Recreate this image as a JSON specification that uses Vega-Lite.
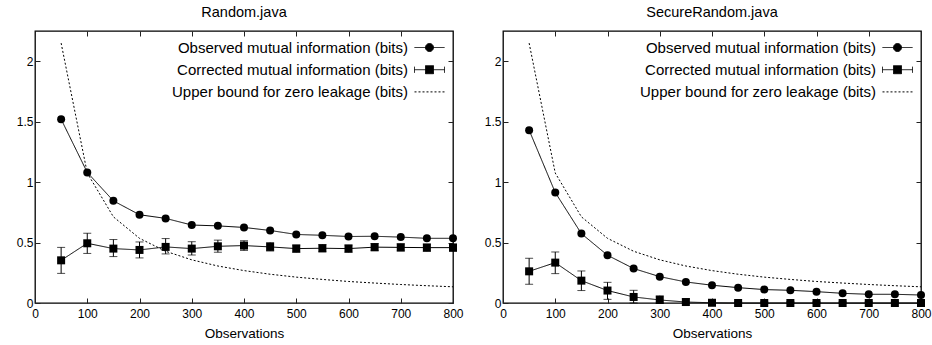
{
  "$schema": "https://vega.github.io/schema/vega-lite/v6.json",
  "padding": {"left": 15, "top": 4, "right": 0, "bottom": 2},
  "background": "white",
  "config": {
    "font": "Liberation Sans",
    "view": {"stroke": "black", "strokeWidth": 1.3},
    "axis": {
      "domain": false,
      "grid": false,
      "labelFont": "Liberation Sans",
      "labelFontSize": 12,
      "labelColor": "black",
      "labelFlush": false,
      "labelPadding": 7,
      "tickColor": "#222",
      "tickSize": -5,
      "tickWidth": 1,
      "titleFont": "Liberation Sans",
      "titleFontSize": 13.5,
      "titleFontWeight": "normal",
      "titleColor": "black"
    },
    "title": {"font": "Liberation Sans", "fontSize": 14.5, "fontWeight": "normal", "color": "black", "offset": 10},
    "legend": {
      "orient": "top-right",
      "offset": 6,
      "title": null,
      "labelFont": "Liberation Sans",
      "labelFontSize": 15,
      "labelColor": "black",
      "labelAlign": "right",
      "labelOffset": -32,
      "labelLimit": 0,
      "symbolSize": 400,
      "symbolStrokeWidth": 1,
      "symbolStrokeColor": "black",
      "rowPadding": 3.2,
      "padding": 0
    }
  },
  "datasets": {
    "mi": [
      {"panel": "Random.java", "series": "Observed mutual information (bits)", "x": 50, "y": 1.52},
      {"panel": "Random.java", "series": "Observed mutual information (bits)", "x": 100, "y": 1.08},
      {"panel": "Random.java", "series": "Observed mutual information (bits)", "x": 150, "y": 0.845},
      {"panel": "Random.java", "series": "Observed mutual information (bits)", "x": 200, "y": 0.73},
      {"panel": "Random.java", "series": "Observed mutual information (bits)", "x": 250, "y": 0.70},
      {"panel": "Random.java", "series": "Observed mutual information (bits)", "x": 300, "y": 0.645},
      {"panel": "Random.java", "series": "Observed mutual information (bits)", "x": 350, "y": 0.638},
      {"panel": "Random.java", "series": "Observed mutual information (bits)", "x": 400, "y": 0.625},
      {"panel": "Random.java", "series": "Observed mutual information (bits)", "x": 450, "y": 0.60},
      {"panel": "Random.java", "series": "Observed mutual information (bits)", "x": 500, "y": 0.567},
      {"panel": "Random.java", "series": "Observed mutual information (bits)", "x": 550, "y": 0.56},
      {"panel": "Random.java", "series": "Observed mutual information (bits)", "x": 600, "y": 0.55},
      {"panel": "Random.java", "series": "Observed mutual information (bits)", "x": 650, "y": 0.552},
      {"panel": "Random.java", "series": "Observed mutual information (bits)", "x": 700, "y": 0.545},
      {"panel": "Random.java", "series": "Observed mutual information (bits)", "x": 750, "y": 0.535},
      {"panel": "Random.java", "series": "Observed mutual information (bits)", "x": 800, "y": 0.535},
      {"panel": "Random.java", "series": "Corrected mutual information (bits)", "x": 50, "y": 0.353, "lo": 0.245, "hi": 0.46},
      {"panel": "Random.java", "series": "Corrected mutual information (bits)", "x": 100, "y": 0.494, "lo": 0.41, "hi": 0.577},
      {"panel": "Random.java", "series": "Corrected mutual information (bits)", "x": 150, "y": 0.45, "lo": 0.384, "hi": 0.525},
      {"panel": "Random.java", "series": "Corrected mutual information (bits)", "x": 200, "y": 0.439, "lo": 0.373, "hi": 0.505},
      {"panel": "Random.java", "series": "Corrected mutual information (bits)", "x": 250, "y": 0.464, "lo": 0.406, "hi": 0.533},
      {"panel": "Random.java", "series": "Corrected mutual information (bits)", "x": 300, "y": 0.45, "lo": 0.397, "hi": 0.507},
      {"panel": "Random.java", "series": "Corrected mutual information (bits)", "x": 350, "y": 0.469, "lo": 0.42, "hi": 0.52},
      {"panel": "Random.java", "series": "Corrected mutual information (bits)", "x": 400, "y": 0.475, "lo": 0.435, "hi": 0.515},
      {"panel": "Random.java", "series": "Corrected mutual information (bits)", "x": 450, "y": 0.464, "lo": 0.43, "hi": 0.50},
      {"panel": "Random.java", "series": "Corrected mutual information (bits)", "x": 500, "y": 0.45, "lo": 0.42, "hi": 0.48},
      {"panel": "Random.java", "series": "Corrected mutual information (bits)", "x": 550, "y": 0.453, "lo": 0.423, "hi": 0.483},
      {"panel": "Random.java", "series": "Corrected mutual information (bits)", "x": 600, "y": 0.45, "lo": 0.42, "hi": 0.48},
      {"panel": "Random.java", "series": "Corrected mutual information (bits)", "x": 650, "y": 0.462, "lo": 0.432, "hi": 0.492},
      {"panel": "Random.java", "series": "Corrected mutual information (bits)", "x": 700, "y": 0.46, "lo": 0.43, "hi": 0.49},
      {"panel": "Random.java", "series": "Corrected mutual information (bits)", "x": 750, "y": 0.458, "lo": 0.428, "hi": 0.488},
      {"panel": "Random.java", "series": "Corrected mutual information (bits)", "x": 800, "y": 0.458, "lo": 0.428, "hi": 0.488},
      {"panel": "Random.java", "series": "Upper bound for zero leakage (bits)", "x": 50, "y": 2.15},
      {"panel": "Random.java", "series": "Upper bound for zero leakage (bits)", "x": 100, "y": 1.075},
      {"panel": "Random.java", "series": "Upper bound for zero leakage (bits)", "x": 150, "y": 0.713},
      {"panel": "Random.java", "series": "Upper bound for zero leakage (bits)", "x": 200, "y": 0.535},
      {"panel": "Random.java", "series": "Upper bound for zero leakage (bits)", "x": 250, "y": 0.428},
      {"panel": "Random.java", "series": "Upper bound for zero leakage (bits)", "x": 300, "y": 0.357},
      {"panel": "Random.java", "series": "Upper bound for zero leakage (bits)", "x": 350, "y": 0.306},
      {"panel": "Random.java", "series": "Upper bound for zero leakage (bits)", "x": 400, "y": 0.268},
      {"panel": "Random.java", "series": "Upper bound for zero leakage (bits)", "x": 450, "y": 0.238},
      {"panel": "Random.java", "series": "Upper bound for zero leakage (bits)", "x": 500, "y": 0.214},
      {"panel": "Random.java", "series": "Upper bound for zero leakage (bits)", "x": 550, "y": 0.195},
      {"panel": "Random.java", "series": "Upper bound for zero leakage (bits)", "x": 600, "y": 0.178},
      {"panel": "Random.java", "series": "Upper bound for zero leakage (bits)", "x": 650, "y": 0.165},
      {"panel": "Random.java", "series": "Upper bound for zero leakage (bits)", "x": 700, "y": 0.153},
      {"panel": "Random.java", "series": "Upper bound for zero leakage (bits)", "x": 750, "y": 0.143},
      {"panel": "Random.java", "series": "Upper bound for zero leakage (bits)", "x": 800, "y": 0.134},
      {"panel": "SecureRandom.java", "series": "Observed mutual information (bits)", "x": 50, "y": 1.43},
      {"panel": "SecureRandom.java", "series": "Observed mutual information (bits)", "x": 100, "y": 0.914},
      {"panel": "SecureRandom.java", "series": "Observed mutual information (bits)", "x": 150, "y": 0.574},
      {"panel": "SecureRandom.java", "series": "Observed mutual information (bits)", "x": 200, "y": 0.395},
      {"panel": "SecureRandom.java", "series": "Observed mutual information (bits)", "x": 250, "y": 0.285},
      {"panel": "SecureRandom.java", "series": "Observed mutual information (bits)", "x": 300, "y": 0.218},
      {"panel": "SecureRandom.java", "series": "Observed mutual information (bits)", "x": 350, "y": 0.174},
      {"panel": "SecureRandom.java", "series": "Observed mutual information (bits)", "x": 400, "y": 0.147},
      {"panel": "SecureRandom.java", "series": "Observed mutual information (bits)", "x": 450, "y": 0.127},
      {"panel": "SecureRandom.java", "series": "Observed mutual information (bits)", "x": 500, "y": 0.111},
      {"panel": "SecureRandom.java", "series": "Observed mutual information (bits)", "x": 550, "y": 0.105},
      {"panel": "SecureRandom.java", "series": "Observed mutual information (bits)", "x": 600, "y": 0.094},
      {"panel": "SecureRandom.java", "series": "Observed mutual information (bits)", "x": 650, "y": 0.08},
      {"panel": "SecureRandom.java", "series": "Observed mutual information (bits)", "x": 700, "y": 0.072},
      {"panel": "SecureRandom.java", "series": "Observed mutual information (bits)", "x": 750, "y": 0.072},
      {"panel": "SecureRandom.java", "series": "Observed mutual information (bits)", "x": 800, "y": 0.066},
      {"panel": "SecureRandom.java", "series": "Corrected mutual information (bits)", "x": 50, "y": 0.262, "lo": 0.155, "hi": 0.37},
      {"panel": "SecureRandom.java", "series": "Corrected mutual information (bits)", "x": 100, "y": 0.334, "lo": 0.243, "hi": 0.422},
      {"panel": "SecureRandom.java", "series": "Corrected mutual information (bits)", "x": 150, "y": 0.185, "lo": 0.103, "hi": 0.265},
      {"panel": "SecureRandom.java", "series": "Corrected mutual information (bits)", "x": 200, "y": 0.103, "lo": 0.03, "hi": 0.171},
      {"panel": "SecureRandom.java", "series": "Corrected mutual information (bits)", "x": 250, "y": 0.05, "lo": 0.0, "hi": 0.105},
      {"panel": "SecureRandom.java", "series": "Corrected mutual information (bits)", "x": 300, "y": 0.025, "lo": 0.0, "hi": 0.06},
      {"panel": "SecureRandom.java", "series": "Corrected mutual information (bits)", "x": 350, "y": 0.008, "lo": 0.0, "hi": 0.035},
      {"panel": "SecureRandom.java", "series": "Corrected mutual information (bits)", "x": 400, "y": 0.002, "lo": 0.0, "hi": 0.012},
      {"panel": "SecureRandom.java", "series": "Corrected mutual information (bits)", "x": 450, "y": 0.0, "lo": 0.0, "hi": 0.01},
      {"panel": "SecureRandom.java", "series": "Corrected mutual information (bits)", "x": 500, "y": 0.0, "lo": 0.0, "hi": 0.01},
      {"panel": "SecureRandom.java", "series": "Corrected mutual information (bits)", "x": 550, "y": 0.0, "lo": 0.0, "hi": 0.01},
      {"panel": "SecureRandom.java", "series": "Corrected mutual information (bits)", "x": 600, "y": 0.0, "lo": 0.0, "hi": 0.01},
      {"panel": "SecureRandom.java", "series": "Corrected mutual information (bits)", "x": 650, "y": 0.0, "lo": 0.0, "hi": 0.01},
      {"panel": "SecureRandom.java", "series": "Corrected mutual information (bits)", "x": 700, "y": 0.0, "lo": 0.0, "hi": 0.01},
      {"panel": "SecureRandom.java", "series": "Corrected mutual information (bits)", "x": 750, "y": 0.0, "lo": 0.0, "hi": 0.01},
      {"panel": "SecureRandom.java", "series": "Corrected mutual information (bits)", "x": 800, "y": 0.0, "lo": 0.0, "hi": 0.01},
      {"panel": "SecureRandom.java", "series": "Upper bound for zero leakage (bits)", "x": 50, "y": 2.15},
      {"panel": "SecureRandom.java", "series": "Upper bound for zero leakage (bits)", "x": 100, "y": 1.075},
      {"panel": "SecureRandom.java", "series": "Upper bound for zero leakage (bits)", "x": 150, "y": 0.713},
      {"panel": "SecureRandom.java", "series": "Upper bound for zero leakage (bits)", "x": 200, "y": 0.535},
      {"panel": "SecureRandom.java", "series": "Upper bound for zero leakage (bits)", "x": 250, "y": 0.428},
      {"panel": "SecureRandom.java", "series": "Upper bound for zero leakage (bits)", "x": 300, "y": 0.357},
      {"panel": "SecureRandom.java", "series": "Upper bound for zero leakage (bits)", "x": 350, "y": 0.306},
      {"panel": "SecureRandom.java", "series": "Upper bound for zero leakage (bits)", "x": 400, "y": 0.268},
      {"panel": "SecureRandom.java", "series": "Upper bound for zero leakage (bits)", "x": 450, "y": 0.238},
      {"panel": "SecureRandom.java", "series": "Upper bound for zero leakage (bits)", "x": 500, "y": 0.214},
      {"panel": "SecureRandom.java", "series": "Upper bound for zero leakage (bits)", "x": 550, "y": 0.195},
      {"panel": "SecureRandom.java", "series": "Upper bound for zero leakage (bits)", "x": 600, "y": 0.178},
      {"panel": "SecureRandom.java", "series": "Upper bound for zero leakage (bits)", "x": 650, "y": 0.165},
      {"panel": "SecureRandom.java", "series": "Upper bound for zero leakage (bits)", "x": 700, "y": 0.153},
      {"panel": "SecureRandom.java", "series": "Upper bound for zero leakage (bits)", "x": 750, "y": 0.143},
      {"panel": "SecureRandom.java", "series": "Upper bound for zero leakage (bits)", "x": 800, "y": 0.134}
    ]
  },
  "data": {"name": "mi"},
  "spacing": 19,
  "resolve": {
    "scale": {"strokeDash": "independent", "shape": "independent"},
    "legend": {"strokeDash": "independent", "shape": "independent"}
  },
  "hconcat": [
    {
      "title": "Random.java",
      "width": 418,
      "height": 272,
      "transform": [{"filter": "datum.panel === 'Random.java'"}],
      "resolve": {"axis": {"x": "independent", "y": "independent"}},
      "layer": [
        {
          "mark": {"type": "line", "color": "black", "strokeWidth": 1},
          "encoding": {
            "x": {"field": "x", "type": "quantitative", "scale": {"domain": [0, 800], "nice": false}, "axis": {"orient": "bottom", "values": [0, 100, 200, 300, 400, 500, 600, 700, 800], "labelPadding": 10, "title": "Observations", "titlePadding": 7}},
            "y": {"field": "y", "type": "quantitative", "scale": {"domain": [0, 2.25], "nice": false}, "axis": {"orient": "left", "values": [0, 0.5, 1, 1.5, 2], "format": "~g", "title": null}},
            "detail": {"field": "series"},
            "strokeDash": {
              "field": "series", "type": "nominal",
              "scale": {"domain": ["Observed mutual information (bits)", "Corrected mutual information (bits)", "Upper bound for zero leakage (bits)"], "range": [[1, 0], [1, 0], [2, 2]]},
              "legend": {
                "encode": {"symbols": {"update": {
                  "shape": {"signal": "datum.value === 'Observed mutual information (bits)' ? 'M-1.5,0L1.5,0M-0.4,0A0.4,0.4,0,1,1,0.4,0A0.4,0.4,0,1,1,-0.4,0Z' : datum.value === 'Corrected mutual information (bits)' ? 'M-1.5,-0.3L-1.5,0.3M-1.5,0L1.5,0M1.5,-0.3L1.5,0.3M-0.4,-0.4L0.4,-0.4L0.4,0.4L-0.4,0.4Z' : 'M-1.5,0L1.5,0'"},
                  "fill": {"signal": "datum.value === 'Upper bound for zero leakage (bits)' ? 'transparent' : 'black'"},
                  "stroke": {"value": "black"},
                  "strokeWidth": {"value": 1}
                }}}
              }
            }
          }
        },
        {
          "transform": [{"filter": "datum.series === 'Corrected mutual information (bits)'"}],
          "mark": {"type": "errorbar", "ticks": {"size": 8, "color": "black"}, "rule": {"color": "black", "strokeWidth": 1}},
          "encoding": {
            "x": {"field": "x", "type": "quantitative", "axis": null},
            "y": {"field": "lo", "type": "quantitative", "axis": null},
            "y2": {"field": "hi"}
          }
        },
        {
          "transform": [{"filter": "datum.series !== 'Upper bound for zero leakage (bits)'"}],
          "mark": {"type": "point", "filled": true, "color": "black", "size": 64, "opacity": 1},
          "encoding": {
            "x": {"field": "x", "type": "quantitative", "axis": {"orient": "top", "values": [0, 100, 200, 300, 400, 500, 600, 700, 800], "labels": false, "title": null}},
            "y": {"field": "y", "type": "quantitative", "axis": {"orient": "right", "values": [0, 0.5, 1, 1.5, 2], "labels": false, "title": null}},
            "shape": {"field": "series", "type": "nominal", "scale": {"domain": ["Observed mutual information (bits)", "Corrected mutual information (bits)"], "range": ["circle", "square"]}, "legend": null}
          }
        }
      ]
    },
    {
      "title": "SecureRandom.java",
      "width": 418,
      "height": 272,
      "transform": [{"filter": "datum.panel === 'SecureRandom.java'"}],
      "resolve": {"axis": {"x": "independent", "y": "independent"}},
      "layer": [
        {
          "mark": {"type": "line", "color": "black", "strokeWidth": 1},
          "encoding": {
            "x": {"field": "x", "type": "quantitative", "scale": {"domain": [0, 800], "nice": false}, "axis": {"orient": "bottom", "values": [0, 100, 200, 300, 400, 500, 600, 700, 800], "labelPadding": 10, "title": "Observations", "titlePadding": 7}},
            "y": {"field": "y", "type": "quantitative", "scale": {"domain": [0, 2.25], "nice": false}, "axis": {"orient": "left", "values": [0, 0.5, 1, 1.5, 2], "format": "~g", "title": null}},
            "detail": {"field": "series"},
            "strokeDash": {
              "field": "series", "type": "nominal",
              "scale": {"domain": ["Observed mutual information (bits)", "Corrected mutual information (bits)", "Upper bound for zero leakage (bits)"], "range": [[1, 0], [1, 0], [2, 2]]},
              "legend": {
                "encode": {"symbols": {"update": {
                  "shape": {"signal": "datum.value === 'Observed mutual information (bits)' ? 'M-1.5,0L1.5,0M-0.4,0A0.4,0.4,0,1,1,0.4,0A0.4,0.4,0,1,1,-0.4,0Z' : datum.value === 'Corrected mutual information (bits)' ? 'M-1.5,-0.3L-1.5,0.3M-1.5,0L1.5,0M1.5,-0.3L1.5,0.3M-0.4,-0.4L0.4,-0.4L0.4,0.4L-0.4,0.4Z' : 'M-1.5,0L1.5,0'"},
                  "fill": {"signal": "datum.value === 'Upper bound for zero leakage (bits)' ? 'transparent' : 'black'"},
                  "stroke": {"value": "black"},
                  "strokeWidth": {"value": 1}
                }}}
              }
            }
          }
        },
        {
          "transform": [{"filter": "datum.series === 'Corrected mutual information (bits)'"}],
          "mark": {"type": "errorbar", "ticks": {"size": 8, "color": "black"}, "rule": {"color": "black", "strokeWidth": 1}},
          "encoding": {
            "x": {"field": "x", "type": "quantitative", "axis": null},
            "y": {"field": "lo", "type": "quantitative", "axis": null},
            "y2": {"field": "hi"}
          }
        },
        {
          "transform": [{"filter": "datum.series !== 'Upper bound for zero leakage (bits)'"}],
          "mark": {"type": "point", "filled": true, "color": "black", "size": 64, "opacity": 1},
          "encoding": {
            "x": {"field": "x", "type": "quantitative", "axis": {"orient": "top", "values": [0, 100, 200, 300, 400, 500, 600, 700, 800], "labels": false, "title": null}},
            "y": {"field": "y", "type": "quantitative", "axis": {"orient": "right", "values": [0, 0.5, 1, 1.5, 2], "labels": false, "title": null}},
            "shape": {"field": "series", "type": "nominal", "scale": {"domain": ["Observed mutual information (bits)", "Corrected mutual information (bits)"], "range": ["circle", "square"]}, "legend": null}
          }
        }
      ]
    }
  ]
}
